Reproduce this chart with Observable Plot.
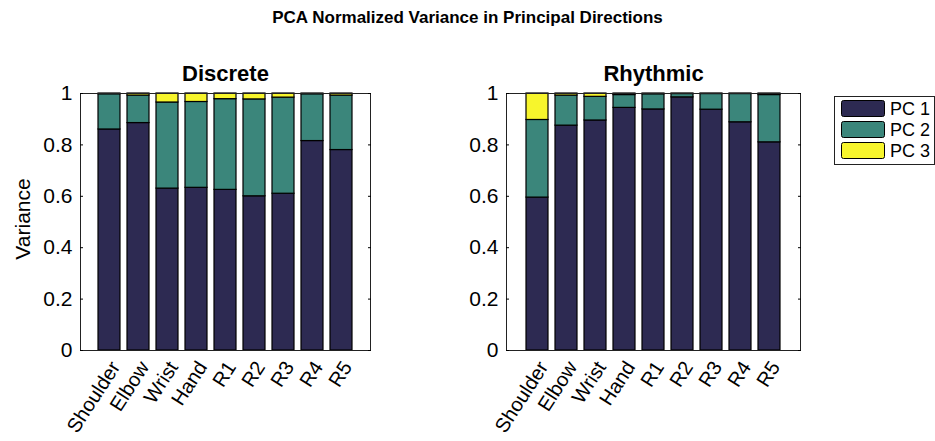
<!DOCTYPE html>
<html>
<head>
<meta charset="utf-8">
<script src="https://cdn.jsdelivr.net/npm/d3@7"></script>
<script src="https://cdn.jsdelivr.net/npm/@observablehq/plot@0.6"></script>
<style>
  html, body { margin: 0; padding: 0; background: #fff; }
  #chart { position: relative; width: 935px; height: 441px; overflow: hidden;
           font-family: "Liberation Sans", Arial, Helvetica, sans-serif; }
  #chart > * { position: absolute; }
  #title { left: 0; width: 935px; top: 8px; text-align: center; font-weight: bold; font-size: 17px; }
</style>
</head>
<body>
<div id="chart"><div id="title">PCA Normalized Variance in Principal Directions</div></div>
<script>
// Joints along the arm, one bar each
const joints = ["Shoulder", "Elbow", "Wrist", "Hand", "R1", "R2", "R3", "R4", "R5"];
const components = ["PC 1", "PC 2", "PC 3"];
const componentColors = ["#2d2a52", "#3b867b", "#f7f52c"];
const yTicks = [0, 0.2, 0.4, 0.6, 0.8, 1];

// Discrete movements: share of variance per principal component
const discretePC1 = [0.860, 0.885, 0.630, 0.633, 0.625, 0.600, 0.610, 0.815, 0.780];
const discretePC2 = [0.137, 0.107, 0.335, 0.334, 0.353, 0.377, 0.374, 0.182, 0.212];
const discretePC3 = [0.003, 0.008, 0.035, 0.033, 0.022, 0.023, 0.016, 0.003, 0.008];

// Rhythmic movements
const rhythmicPC1 = [0.595, 0.875, 0.895, 0.944, 0.938, 0.985, 0.937, 0.888, 0.810];
const rhythmicPC2 = [0.302, 0.117, 0.092, 0.050, 0.059, 0.013, 0.061, 0.110, 0.184];
const rhythmicPC3 = [0.103, 0.008, 0.013, 0.006, 0.003, 0.002, 0.002, 0.002, 0.006];

const FONT = "'Liberation Sans', Arial, Helvetica, sans-serif";
const fmt = d => String(+d.toFixed(1));

function longForm(series) {
  const rows = [];
  joints.forEach((j, i) => series.forEach((s, k) => rows.push({joint: j, pc: components[k], value: s[i]})));
  return rows;
}

function panel(title, series, {marginLeft, frameWidth, ylabel}) {
  const marks = [
    Plot.barY(longForm(series), {
      x: "joint", y: "value", fill: "pc", stroke: "#000", strokeWidth: 1.2,
      order: components
    }),
    Plot.frame({stroke: "#222", strokeWidth: 1}),
    // tick labels on the left, small inward ticks on both sides
    Plot.axisY({anchor: "left", ticks: yTicks, tickSize: 0, tickPadding: 8, tickFormat: fmt,
                fontSize: 21, label: null}),
    Plot.axisY({anchor: "left", ticks: yTicks, tickSize: -3, tickFormat: () => "", label: null}),
    Plot.axisY({anchor: "right", ticks: yTicks, tickSize: -3, tickFormat: () => "", label: null}),
    Plot.axisX({anchor: "bottom", tickSize: 0, tickRotate: -57, tickPadding: 6, fontSize: 20,
                dx: 6, dy: 7, label: null}),
    Plot.text([title], {frameAnchor: "top", dy: -13, fontSize: 22, fontWeight: "bold", lineAnchor: "bottom"})
  ];
  if (ylabel) {
    marks.push(Plot.text([ylabel], {frameAnchor: "left", dx: -57, dy: -3, rotate: -90, fontSize: 21,
                                    textAnchor: "middle", lineAnchor: "middle"}));
  }
  return Plot.plot({
    width: marginLeft + frameWidth + 12,
    height: 441,
    marginLeft,
    marginRight: 12,
    marginTop: 93,
    marginBottom: 91,
    style: {fontFamily: FONT, fontSize: "20px", color: "#000", background: "transparent"},
    x: {domain: joints, paddingInner: 0.25, paddingOuter: 0.625, axis: null},
    y: {domain: [0, 1], axis: null},
    color: {domain: components, range: componentColors},
    marks
  });
}

const chart = document.getElementById("chart");

const left = panel("Discrete", [discretePC1, discretePC2, discretePC3],
                   {marginLeft: 80, frameWidth: 290, ylabel: "Variance"});
left.style.left = "0px"; left.style.top = "0px";
chart.appendChild(left);

const right = panel("Rhythmic", [rhythmicPC1, rhythmicPC2, rhythmicPC3],
                    {marginLeft: 80, frameWidth: 294});
right.style.left = "426px"; right.style.top = "0px";
chart.appendChild(right);

// Legend box with one swatch per component
const legend = d3.create("svg").attr("width", 101).attr("height", 70)
  .style("left", "834px").style("top", "96px").style("font-family", FONT);
legend.append("rect").attr("x", 0.5).attr("y", 0.5).attr("width", 100).attr("height", 68)
  .attr("fill", "#fff").attr("stroke", "#222");
components.forEach((c, i) => {
  const y = 4 + i * 21;
  legend.append("rect").attr("x", 7.5).attr("y", y + 0.5).attr("width", 43).attr("height", 16)
    .attr("rx", 2).attr("fill", componentColors[i]).attr("stroke", "#000");
  legend.append("text").attr("x", 56).attr("y", y + 15).attr("font-size", 18).text(c);
});
chart.appendChild(legend.node());
</script>
</body>
</html>
